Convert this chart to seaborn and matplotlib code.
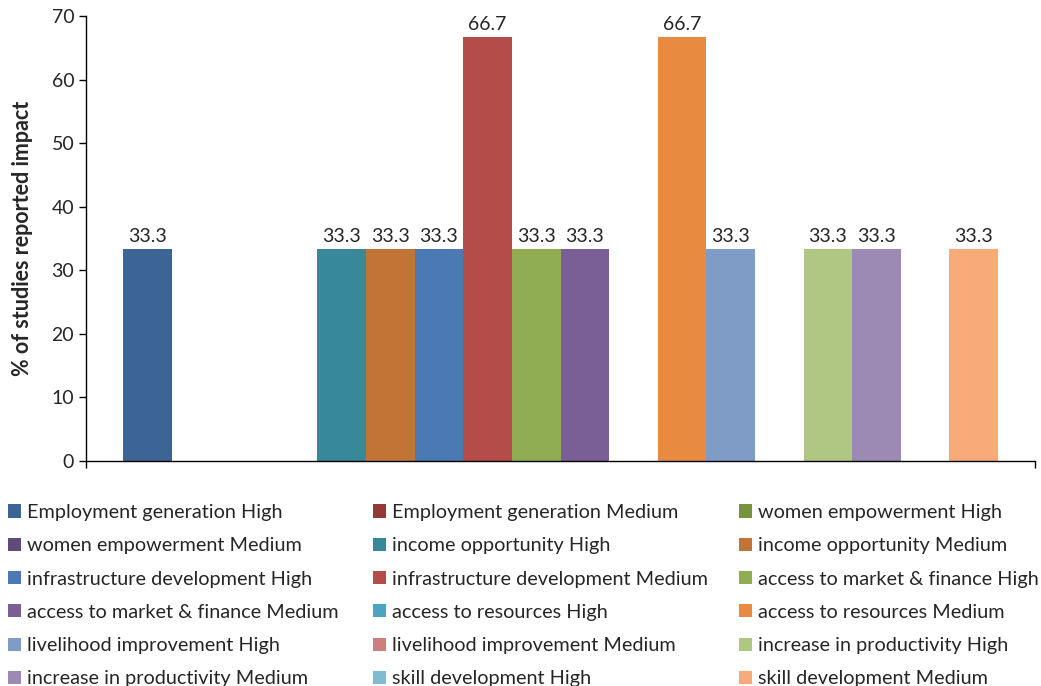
import matplotlib

matplotlib.use("Agg")

import matplotlib.pyplot as plt
import pandas as pd
import seaborn as sns
from matplotlib.patches import Patch


# one bar per impact / level combination (row-major legend order)
SERIES = [
    "Employment generation High",
    "Employment generation Medium",
    "women empowerment High",
    "women empowerment Medium",
    "income opportunity High",
    "income opportunity Medium",
    "infrastructure development High",
    "infrastructure development Medium",
    "access to market & finance High",
    "access to market & finance Medium",
    "access to resources High",
    "access to resources Medium",
    "livelihood improvement High",
    "livelihood improvement Medium",
    "increase in productivity High",
    "increase in productivity Medium",
    "skill development High",
    "skill development Medium",
]
VALUES = [33.3, 0, 0, 0, 33.3, 33.3, 33.3, 66.7, 33.3, 33.3, 0, 66.7, 33.3, 0, 33.3, 33.3, 0, 33.3]
COLORS = [
    "#3C6494", "#943937", "#77933C", "#604A7B", "#378899", "#C27436",
    "#4A79B3", "#B44C49", "#91AD52", "#7A5F97", "#4AA6C0", "#E88B40",
    "#7F9CC7", "#CC7F7E", "#B0C683", "#9C89B4", "#7FBCD2", "#F8AB79",
]
Y_TICKS = [0, 10, 20, 30, 40, 50, 60, 70]

FONT = ["Lato", "DejaVu Sans"]


def main() -> None:
    sns.set_style("white")
    plt.rcParams["font.family"] = FONT

    df = pd.DataFrame({"group": ["all"] * len(SERIES), "series": SERIES, "value": VALUES})
    palette = dict(zip(SERIES, COLORS))

    fig = plt.figure(figsize=(10.41, 6.86), dpi=100)
    ax = fig.add_axes([86 / 1041, 1 - 461 / 686, (1035 - 86) / 1041, (461 - 16) / 686])

    sns.barplot(
        data=df, x="group", y="value", hue="series", hue_order=SERIES,
        palette=palette, width=0.922, saturation=1, legend=False,
        linewidth=0, edgecolor="none", ax=ax,
    )

    for cont, val in zip(ax.containers, VALUES):
        ax.bar_label(cont, labels=[f"{val:.1f}" if val > 0 else ""], padding=3, fontsize=14)

    ax.set_xlim(-0.5, 0.5)
    ax.set_ylim(0, 70)
    ax.set_yticks(Y_TICKS)
    ax.set_yticklabels([str(t) for t in Y_TICKS], fontsize=14)
    ax.set_xticks([-0.5, 0.5])
    ax.set_xticklabels(["", ""])
    ax.set_xlabel("")
    ax.set_ylabel("% of studies reported impact", fontsize=15.5, fontweight="bold", labelpad=13)
    ax.tick_params(axis="both", direction="out", length=5, width=1, color="black", left=True, bottom=True)
    for side in ["top", "right"]:
        ax.spines[side].set_visible(False)
    for side in ["left", "bottom"]:
        ax.spines[side].set_color("black")
        ax.spines[side].set_linewidth(1)

    handles = [Patch(facecolor=c, edgecolor="none") for c in COLORS]
    col_x = [4 / 1041, 369 / 1041, 735 / 1041]
    for col in range(3):
        idx = list(range(col, len(SERIES), 3))
        fig.legend(
            [handles[i] for i in idx], [SERIES[i] for i in idx],
            loc="upper left", bbox_to_anchor=(col_x[col], 1 - 500 / 686),
            frameon=False, fontsize=14.3, ncol=1,
            handlelength=0.65, handleheight=0.65, handletextpad=0.3,
            labelspacing=0.82, borderaxespad=0, borderpad=0.2,
        )

    fig.savefig("out.png", dpi=100)
    plt.close(fig)


if __name__ == "__main__":
    main()
